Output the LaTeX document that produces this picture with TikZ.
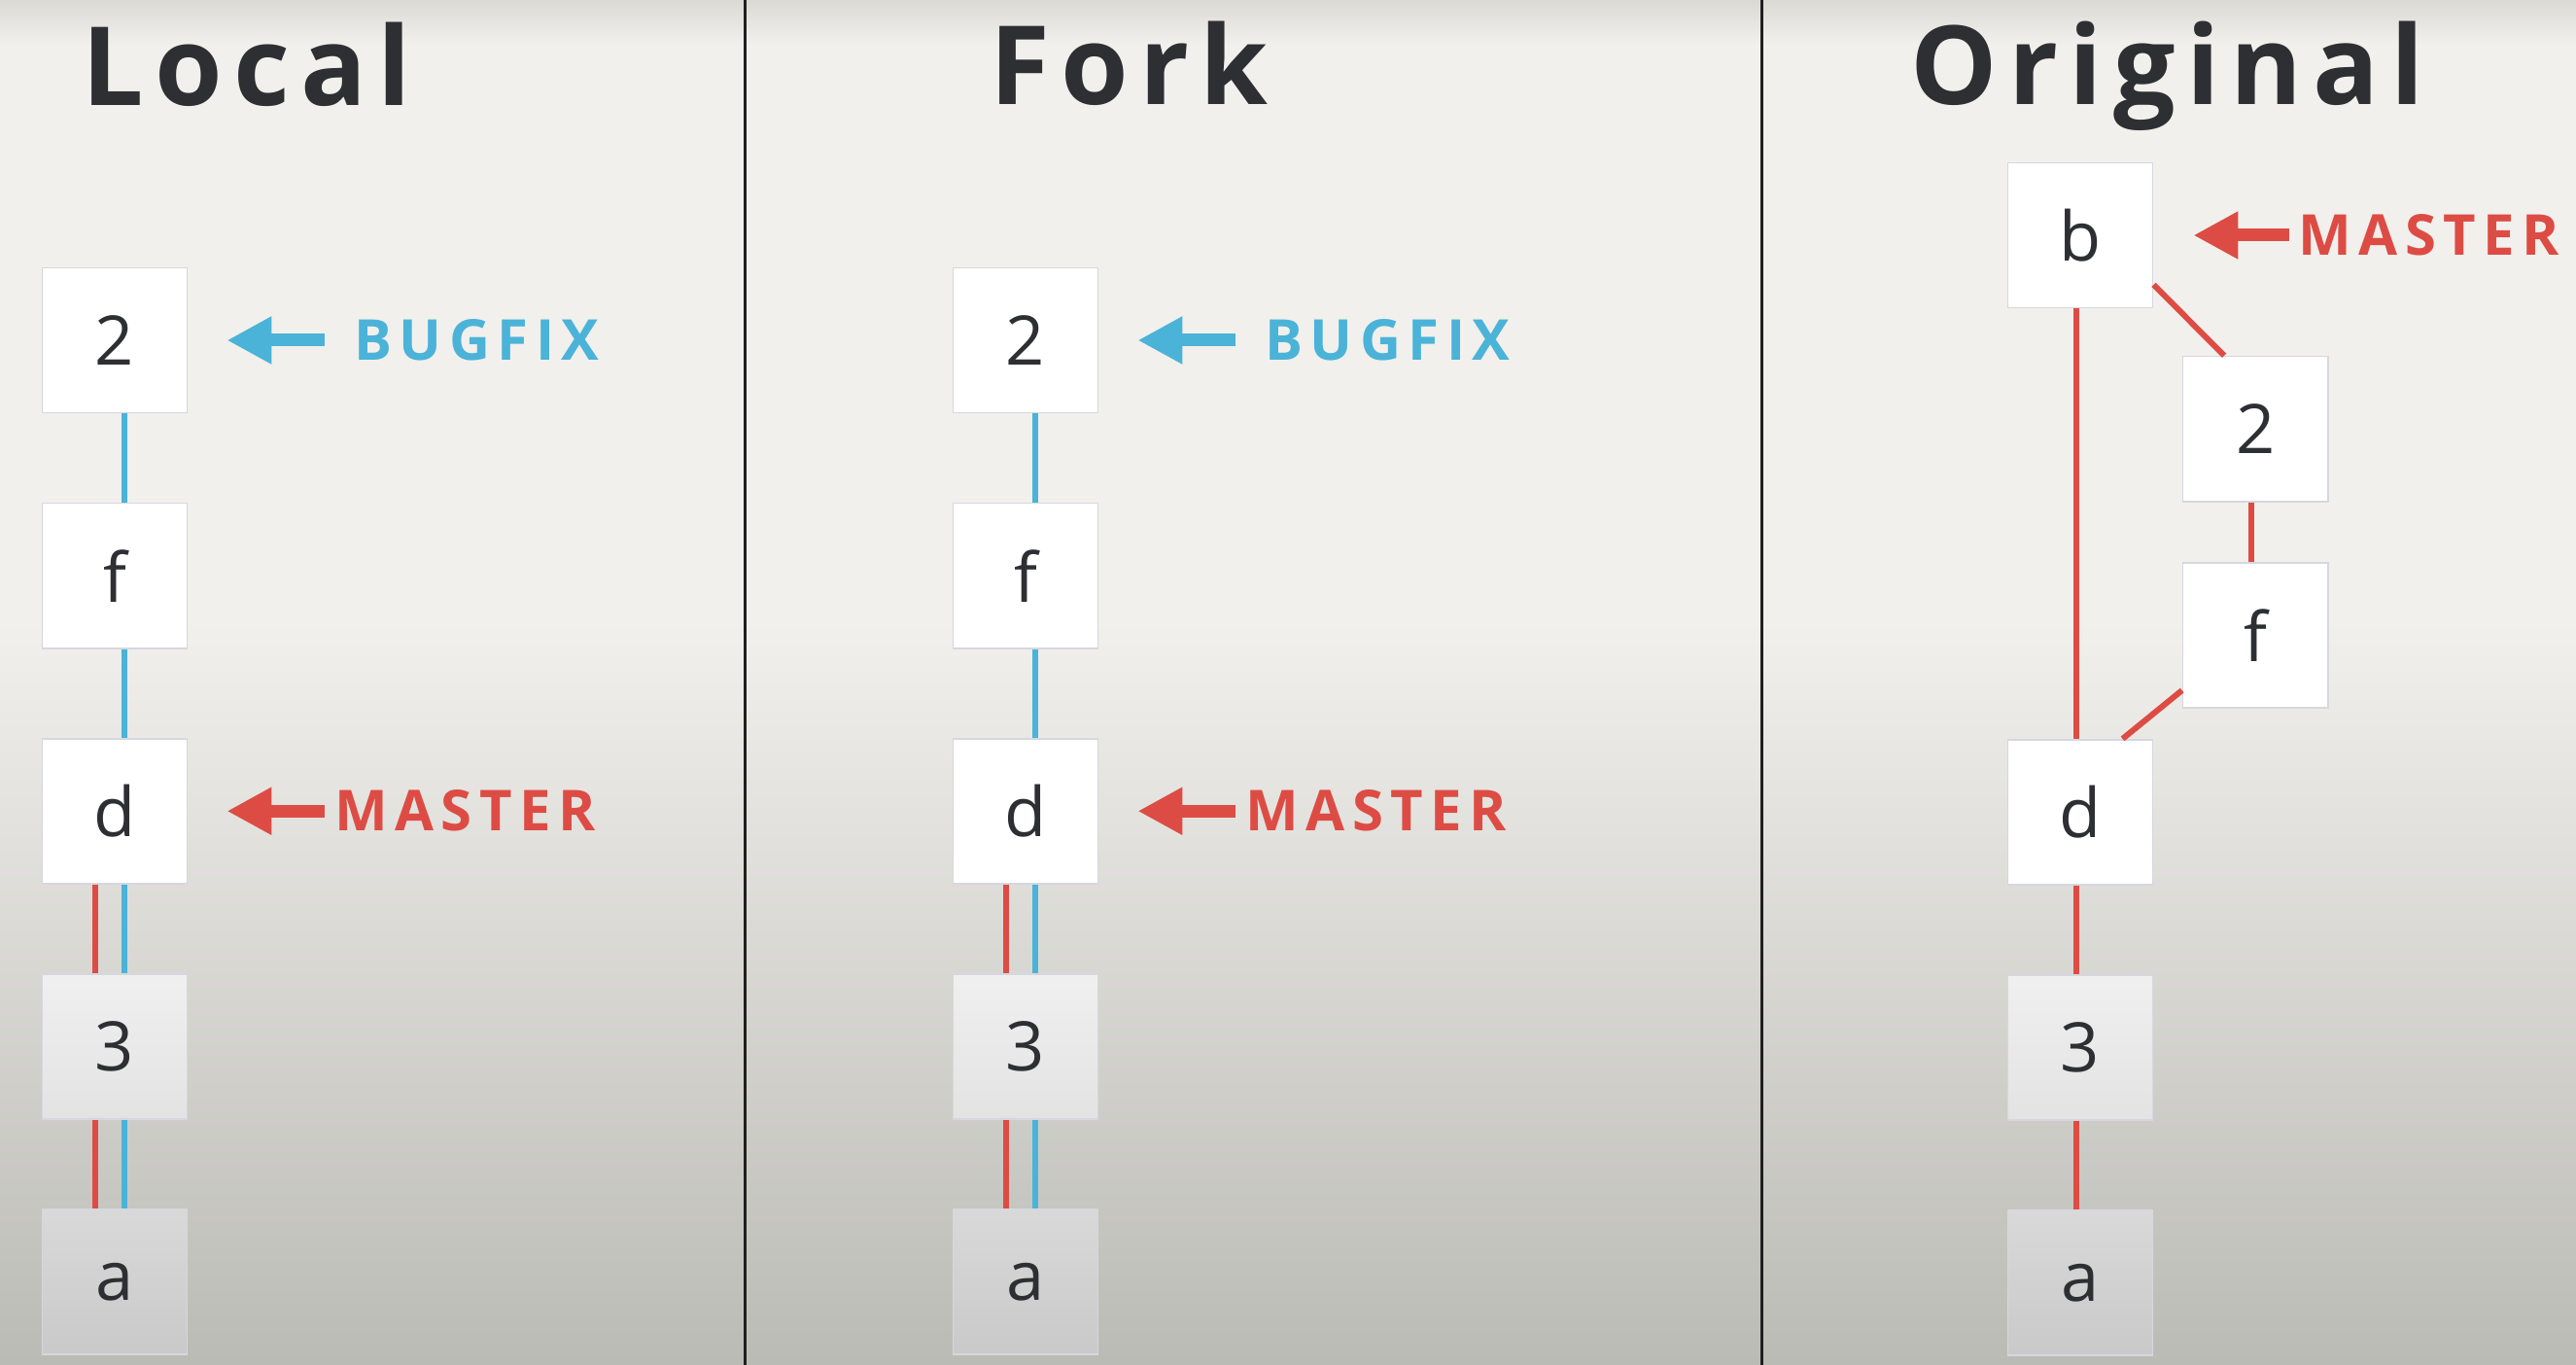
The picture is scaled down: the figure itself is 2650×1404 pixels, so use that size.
\documentclass[tikz,border=0pt]{standalone}
\usepackage{fontspec}
\setmainfont{Open Sans}
\newfontfamily\titlefont{Open Sans}[LetterSpace=10]
\newfontfamily\tagfont{Open Sans}[LetterSpace=13]
\usetikzlibrary{positioning,arrows.meta}

\definecolor{paper}{HTML}{F1F0EC}
\definecolor{rim}{HTML}{DAD9D4}
\definecolor{floor}{HTML}{BBBBB6}
\definecolor{ink}{HTML}{2E2F33}
\definecolor{boxline}{HTML}{D6D7DF}
\definecolor{bugblue}{HTML}{4BB3D8}
\definecolor{masterred}{HTML}{DD4C44}

\tikzset{
  commit/.style={draw=boxline,line width=0.5pt,fill=white,minimum size=1.49cm,inner sep=0pt,
    text=ink,font=\fontsize{20}{24}\selectfont},
  dimmed/.style 2 args={top color=#1,bottom color=#2},
  heading/.style={anchor=base west,inner sep=0pt,text=ink,font=\titlefont\bfseries\fontsize{32}{36}\selectfont},
  tag/.style={on grid=false,inner sep=0pt,font=\tagfont\bfseries\fontsize{16.5}{20}\selectfont},
  bugline/.style={draw=bugblue,line width=0.06cm},
  masterline/.style={draw=masterred,line width=0.06cm},
  ptr/.style={line width=0.13cm,-{Triangle[length=0.46cm,width=0.46cm]}}
}

\begin{document}
\begin{tikzpicture}[x=0.01cm,y=-0.01cm,node distance=2.42cm,on grid]
   \useasboundingbox (0,0) rectangle (2650,1404);
   % backdrop
   \fill[paper] (0,0) rectangle (2650,1404);
   \shade[top color=rim,bottom color=paper] (0,0) rectangle (2650,45);
   \shade[top color=paper,bottom color=floor] (0,640) rectangle (2650,1404);
   \draw[line width=0.03cm,black!88] (766,0) -- (766,1404);
   \draw[line width=0.03cm,black!88] (1812,0) -- (1812,1404);

   \node[heading] (t_local) at (84,109) {Local};
   \node[heading] (t_fork) at (1018,108) {Fork};
   \node[heading] (t_orig) at (1965,108) {Original};

   % local
   \node[commit] (l_2) at (118,350) {2};
   \node[commit] (l_f) [below=of l_2] {f};
   \node[commit] (l_d) [below=of l_f] {d};
   \node[commit,dimmed={black!6}{black!11}] (l_3) [below=of l_d] {3};
   \node[commit,dimmed={black!15}{black!21}] (l_a) [below=of l_3] {a};
   \foreach \u/\v in {2/f,f/d,d/3,3/a}
      \draw[bugline] ([xshift=0.1cm]l_\u.south) -- ([xshift=0.1cm]l_\v.north);
   \foreach \u/\v in {d/3,3/a}
      \draw[masterline] ([xshift=-0.2cm]l_\u.south) -- ([xshift=-0.2cm]l_\v.north);
   \node[tag,bugblue,right=1.70cm of l_2] (l_bug) {BUGFIX};
   \node[tag,masterred,right=1.50cm of l_d] (l_mst) {MASTER};
   \draw[ptr,bugblue] ([xshift=-0.30cm]l_bug.west) -- ([xshift=0.4cm]l_2.east);
   \draw[ptr,masterred] ([xshift=-0.10cm]l_mst.west) -- ([xshift=0.4cm]l_d.east);

   % fork
   \node[commit] (f_2) at (1055,350) {2};
   \node[commit] (f_f) [below=of f_2] {f};
   \node[commit] (f_d) [below=of f_f] {d};
   \node[commit,dimmed={black!6}{black!11}] (f_3) [below=of f_d] {3};
   \node[commit,dimmed={black!15}{black!21}] (f_a) [below=of f_3] {a};
   \foreach \u/\v in {2/f,f/d,d/3,3/a}
      \draw[bugline] ([xshift=0.1cm]f_\u.south) -- ([xshift=0.1cm]f_\v.north);
   \foreach \u/\v in {d/3,3/a}
      \draw[masterline] ([xshift=-0.2cm]f_\u.south) -- ([xshift=-0.2cm]f_\v.north);
   \node[tag,bugblue,right=1.70cm of f_2] (f_bug) {BUGFIX};
   \node[tag,masterred,right=1.50cm of f_d] (f_mst) {MASTER};
   \draw[ptr,bugblue] ([xshift=-0.30cm]f_bug.west) -- ([xshift=0.4cm]f_2.east);
   \draw[ptr,masterred] ([xshift=-0.10cm]f_mst.west) -- ([xshift=0.4cm]f_d.east);

   % original
   \node[commit] (o_b) at (2140,242) {b};
   \node[commit] (o_2) [below right=1.99cm and 1.80cm of o_b] {2};
   \node[commit] (o_f) [below=2.12cm of o_2] {f};
   \node[commit] (o_d) [below=5.93cm of o_b] {d};
   \node[commit,dimmed={black!6}{black!11}] (o_3) [below=of o_d] {3};
   \node[commit,dimmed={black!15}{black!21}] (o_a) [below=of o_3] {a};
   \draw[masterline] ([xshift=-0.04cm]o_b.south) -- ([xshift=-0.04cm]o_d.north);
   \draw[masterline] (o_b.-34) -- (o_2.113);
   \draw[masterline] ([xshift=-0.04cm]o_2.south) -- ([xshift=-0.04cm]o_f.north);
   \draw[masterline] (o_f.217) -- (o_d.60);
   \draw[masterline] ([xshift=-0.04cm]o_d.south) -- ([xshift=-0.04cm]o_3.north);
   \draw[masterline] ([xshift=-0.04cm]o_3.south) -- ([xshift=-0.04cm]o_a.north);
   \node[tag,masterred,right=1.48cm of o_b] (o_mst) {MASTER};
   \draw[ptr,masterred] ([xshift=-0.09cm]o_mst.west) -- ([xshift=0.41cm]o_b.east);
\end{tikzpicture}
\end{document}
